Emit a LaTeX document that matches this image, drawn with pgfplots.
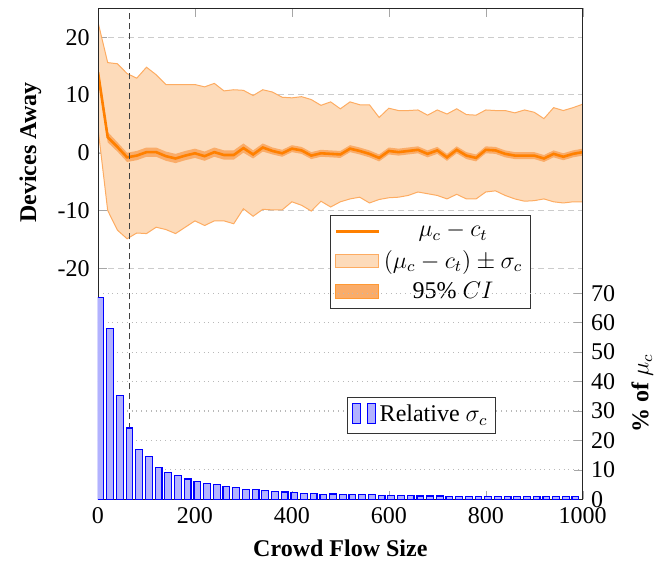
\documentclass[12pt,border=0pt]{standalone}
\usepackage{fontspec}
\setmainfont{Liberation Serif}
\usepackage{pgfplots}
\pgfplotsset{compat=1.18}
\usepackage{pgfplotstable}
\usepgfplotslibrary{fillbetween}
\definecolor{band}{RGB}{253,219,186}
\definecolor{bandedge}{RGB}{253,172,98}
\definecolor{cifill}{RGB}{250,172,105}
\definecolor{mainor}{RGB}{255,128,0}
\definecolor{barfill}{RGB}{178,178,255}

\pgfplotstableread{
x mean up lo ciu cil
0 13.9 22.6 4.2 15.1 12.7
20 2.7 15.6 -10.0 3.6 1.8
40 1.0 15.4 -13.4 1.8 0.2
60 -0.8 13.7 -14.9 0.0 -1.6
80 -0.5 12.9 -13.9 0.3 -1.3
100 0.1 14.8 -14.0 0.9 -0.7
120 0.1 13.5 -12.9 0.9 -0.7
140 -0.6 11.8 -13.3 0.2 -1.4
160 -1.0 11.8 -14.0 -0.2 -1.8
180 -0.5 11.8 -12.9 0.3 -1.3
200 -0.1 11.8 -11.8 0.7 -0.9
220 -0.6 11.4 -12.6 0.2 -1.4
240 0.1 12.0 -11.8 0.9 -0.7
260 -0.4 10.7 -11.8 0.4 -1.2
280 -0.4 10.9 -12.3 0.4 -1.2
300 0.8 10.8 -9.7 1.6 0.0
320 -0.3 9.9 -11.0 0.4 -1.0
340 0.9 10.9 -9.8 1.6 0.2
360 0.3 10.5 -9.9 0.9 -0.3
380 -0.1 9.6 -9.9 0.5 -0.7
400 0.7 9.5 -8.5 1.3 0.1
420 0.4 9.7 -9.1 1.0 -0.2
440 -0.5 9.2 -10.1 0.1 -1.1
460 -0.1 8.2 -8.4 0.5 -0.7
480 -0.2 8.8 -9.4 0.4 -0.8
500 -0.3 7.6 -8.5 0.3 -0.9
520 0.7 8.8 -8.0 1.3 0.1
540 0.3 8.3 -7.7 0.9 -0.3
560 -0.2 8.3 -8.7 0.4 -0.8
580 -0.9 6.1 -8.1 -0.3 -1.5
600 0.3 7.7 -7.8 0.9 -0.3
620 0.1 7.3 -7.7 0.7 -0.5
640 0.3 7.3 -7.4 0.9 -0.3
660 0.5 7.4 -6.8 1.1 -0.1
680 -0.2 6.5 -7.1 0.4 -0.8
700 0.4 7.4 -7.4 1.0 -0.2
720 -0.8 6.7 -8.0 -0.2 -1.4
740 0.5 7.6 -7.2 1.1 -0.1
760 -0.5 6.6 -8.0 0.1 -1.1
780 -0.9 6.5 -8.0 -0.3 -1.5
800 0.5 7.4 -6.8 1.1 -0.1
820 0.4 7.3 -6.6 1.0 -0.2
840 -0.2 7.3 -7.4 0.4 -0.8
860 -0.5 6.9 -8.0 0.1 -1.1
880 -0.5 7.4 -8.4 0.1 -1.1
900 -0.5 7.0 -8.3 0.1 -1.1
920 -1.0 5.9 -8.0 -0.4 -1.6
940 -0.2 7.8 -8.5 0.4 -0.8
960 -0.7 7.3 -8.7 -0.1 -1.3
980 -0.2 7.8 -8.5 0.4 -0.8
1000 0.1 8.4 -8.5 0.7 -0.5
}\devtab

\pgfplotstableread{
x rel
5 68.6
25 57.9
45 35.3
65 24.2
85 16.9
105 14.5
125 10.9
145 9.0
165 8.1
185 6.9
205 6.0
225 5.4
245 5.1
265 4.4
285 4.1
305 3.4
325 3.2
345 2.9
365 2.6
385 2.5
405 2.2
425 2.1
445 2.0
465 1.7
485 1.8
505 1.6
525 1.6
545 1.5
565 1.5
585 1.3
605 1.3
625 1.2
645 1.2
665 1.1
685 1.1
705 1.1
725 1.0
745 1.0
765 1.0
785 1.0
805 1.0
825 0.9
845 0.9
865 0.9
885 0.9
905 0.9
925 0.9
945 0.9
965 0.9
985 0.9
}\bartab

\pgfplotsset{
  common/.style={
    scale only axis, width=242.35pt, height=245.5pt,
    xmin=0, xmax=1000,
    xtick={0,200,...,1000},
    /pgf/number format/assume math mode=true,
    /pgf/number format/1000 sep={},
    axis line style={black!85},
    tick style={gray!70},
    tick align=inside,
  }
}

\begin{document}
\begin{tikzpicture}
\begin{axis}[
  common,
  ymin=-60, ymax=25,
  xticklabels={},
  ytick={-20,-10,0,10,20},
  ytick pos=left,
  ymajorgrids,
  grid style={gray!40, dash pattern=on 3pt off 2pt, line width=0.5pt},
  ylabel={\textbf{Devices Away}},
  ylabel style={at={(ticklabel cs:0.706)}},
  legend style={at={(0.479,0.579)}, anchor=north west, draw=black!80, fill=white,
    inner xsep=2pt, inner ysep=1.5pt, row sep=1pt, font=\fontsize{12}{14}\selectfont},
  legend cell align=center,
]
\addplot[name path=up, draw=none, forget plot] table[x=x,y=up]{\devtab};
\addplot[name path=lo, draw=none, forget plot] table[x=x,y=lo]{\devtab};
\addplot[fill=band, draw=none, forget plot] fill between[of=up and lo];
\addplot[draw=bandedge, line width=0.5pt, forget plot] table[x=x,y=up]{\devtab};
\addplot[draw=bandedge, line width=0.5pt, forget plot] table[x=x,y=lo]{\devtab};
\addplot[name path=ciu, draw=none, forget plot] table[x=x,y=ciu]{\devtab};
\addplot[name path=cil, draw=none, forget plot] table[x=x,y=cil]{\devtab};
\addplot[fill=cifill, draw=none, forget plot] fill between[of=ciu and cil];
\addplot[mainor, line width=1.3pt, forget plot] table[x=x,y=mean]{\devtab};
\addplot[black!75, line width=0.6pt, dash pattern=on 3pt off 2pt, forget plot] coordinates {(65,-60) (65,25)};
\addlegendimage{legend image code/.code={\draw[mainor, line width=1.3pt] (0cm,0cm) -- (0.75cm,0cm);}}
\addlegendentry{$\mu_c - c_t$}
\addlegendimage{legend image code/.code={\draw[fill=band, draw=bandedge] (0cm,-0.12cm) rectangle (0.75cm,0.12cm);}}
\addlegendentry{$(\mu_c - c_t) \pm \sigma_c$}
\addlegendimage{legend image code/.code={\draw[fill=cifill, draw=mainor!80] (0cm,-0.12cm) rectangle (0.75cm,0.12cm);}}
\addlegendentry{95\% $CI$}
\end{axis}

\begin{axis}[
  common,
  ymin=0, ymax=166.8,
  ytick={0,10,...,70},
  yticklabel pos=right,
  ytick pos=right,
  ymajorgrids,
  grid style={gray!55, dotted, line width=0.6pt},
  xlabel={\textbf{Crowd Flow Size}},
  ylabel={\textbf{\% of $\mu_c$}},
  ylabel style={at={(ticklabel cs:0.215)}},
  legend style={at={(0.514,0.209)}, anchor=north west, draw=black!80, fill=white,
    inner xsep=2pt, inner ysep=2pt, font=\fontsize{12}{14}\selectfont},
]
\addplot[ybar, bar width=14, fill=barfill, draw=blue, line width=0.6pt,
  legend image code/.code={
    \draw[fill=barfill, draw=blue, line width=0.6pt] (0pt,-4pt) rectangle (4pt,6pt);
    \draw[fill=barfill, draw=blue, line width=0.6pt] (7.5pt,-4pt) rectangle (11.5pt,6pt);}
  ] table[x=x,y=rel]{\bartab};
\addlegendentry{Relative $\sigma_c$}
\end{axis}
\pgfresetboundingbox
\path (-49pt,-33.35pt) rectangle (287pt,249.65pt);
\end{tikzpicture}
\end{document}
